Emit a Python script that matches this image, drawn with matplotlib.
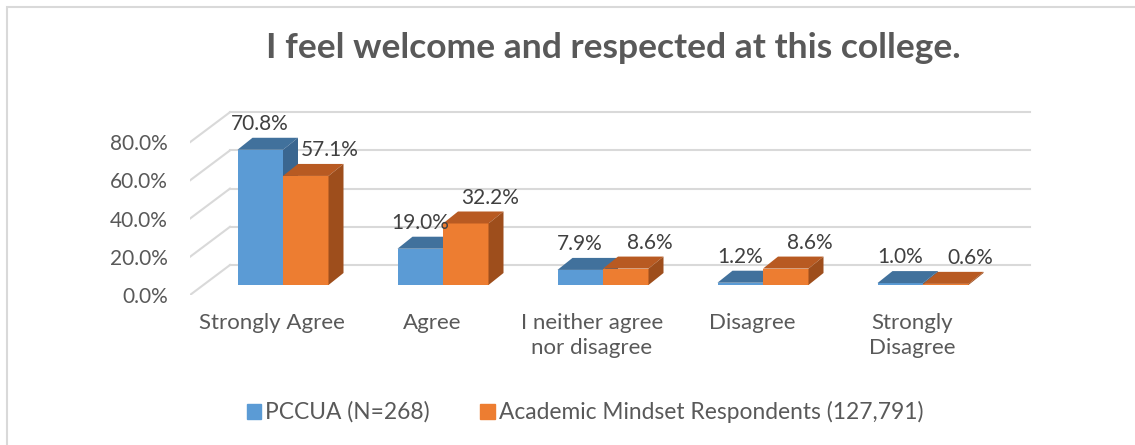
import matplotlib.pyplot as plt
from matplotlib.patches import Patch, Rectangle, Polygon

categories = ["Strongly Agree", "Agree", "I neither agree\nnor disagree", "Disagree", "Strongly\nDisagree"]
pccua = [70.8, 19.0, 7.9, 1.2, 1.0]
academic = [57.1, 32.2, 8.6, 8.6, 0.6]
series_names = ["PCCUA (N=268)", "Academic Mindset Respondents (127,791)"]
yticks = [0, 20, 40, 60, 80]

plt.rcParams["font.family"] = ["Lato", "DejaVu Sans"]

W, H = 1135, 445
fig = plt.figure(figsize=(W / 100, H / 100), dpi=100)

# pixel layout of the fake 3d scene
x0_px, y0_px = 272, 295      # first category, front edge of the floor
sx, sy = 160, 1.91           # px per category, px per percent
xlim = (-0.5125, 5.0)
ylim = (0, 100)
left = x0_px + xlim[0] * sx
right = x0_px + xlim[1] * sx
top = y0_px - ylim[1] * sy
bottom = y0_px - ylim[0] * sy
ax = fig.add_axes([left / W, 1 - bottom / H, (right - left) / W, (bottom - top) / H])
ax.set_xlim(xlim)
ax.set_ylim(ylim)
for s in ax.spines.values():
    s.set_visible(False)

wall_dx, wall_dy = 40 / sx, 30 / sy     # depth of the floor
bx, by = 11 / sx, 10 / sy               # bar front offset from floor edge
ddx, ddy = 15 / sx, 12 / sy             # bar depth
w = 45.5 / sx

grid_c = "#d9d9d9"
for g in yticks:
    ax.plot([xlim[0], xlim[0] + wall_dx], [g, g + wall_dy], color=grid_c, lw=1.5, zorder=1)
    ax.plot([xlim[0] + wall_dx, 4.74], [g + wall_dy, g + wall_dy], color=grid_c, lw=1.5, zorder=1)

colors = [("#5B9BD5", "#41719C", "#3A6690"), ("#ED7D31", "#B85A22", "#9E4E1C")]
z = 2
for i in range(len(categories)):
    for k, vals in enumerate([pccua, academic]):
        front, topc, side = colors[k]
        v = vals[i]
        xl = i + bx - w + k * w
        xr = xl + w
        t = by + v
        ax.bar(xl, v, width=w, bottom=by, align="edge", color=front, zorder=z)
        ax.add_patch(Polygon([(xl, t), (xr, t), (xr + ddx, t + ddy), (xl + ddx, t + ddy)],
                             closed=True, color=topc, lw=0, zorder=z + 0.1))
        ax.add_patch(Polygon([(xr, by), (xr + ddx, by + ddy), (xr + ddx, t + ddy), (xr, t)],
                             closed=True, color=side, lw=0, zorder=z + 0.1))
        z += 1
        lx = xl + w / 2 + (0.15 if k == 1 else 0)
        ax.text(lx, t + ddy + 7.3, f"{v:.1f}%", ha="center", va="center",
                fontsize=15, color="#404040", zorder=20)

ax.set_yticks(yticks)
ax.set_yticklabels([f"{g:.1f}%" for g in yticks])
ax.tick_params(axis="y", length=0, pad=16, labelsize=15, labelcolor="#595959")
ax.set_xticks(range(len(categories)))
ax.set_xticklabels(categories)
ax.tick_params(axis="x", length=0, pad=13, labelsize=16, labelcolor="#595959")
for lab in ax.get_xticklabels():
    lab.set_linespacing(1.3)

fig.text(613 / W, 1 - 48 / H, "I feel welcome and respected at this college.", ha="center", va="center",
         fontsize=25.5, fontweight="bold", color="#595959")

handles = [Patch(color=colors[0][0]), Patch(color=colors[1][0])]
fig.legend(handles, series_names, loc="center", bbox_to_anchor=(585 / W, 1 - 412 / H), ncol=2,
           frameon=False, fontsize=16.4, labelcolor="#595959", handlelength=0.64, handleheight=0.64,
           handletextpad=0.18, columnspacing=2.2)

fig.add_artist(Rectangle((7 / W, -0.1), 1.2, 1 - 7 / H + 0.1, transform=fig.transFigure,
                         fill=False, edgecolor=grid_c, lw=1.5))

plt.savefig("out.png")
plt.close()
